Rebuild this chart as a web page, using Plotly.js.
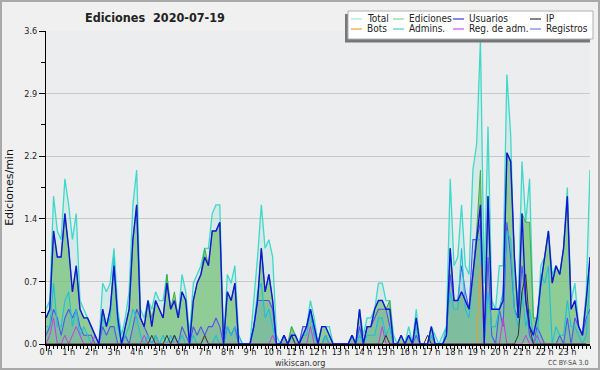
<!DOCTYPE html>
<html><head><meta charset="utf-8">
<script src="https://cdn.plot.ly/plotly-3.0.1.min.js"></script>
<style>html,body{margin:0;padding:0;background:#f0f0f0}#c{width:600px;height:370px}</style>
</head><body><div id="c"></div>
<script>
// 10-minute slots, 00:00 .. 24:00 (145 points), values in edits/min
const totalVals = [0.4,0.5,1.7,1.3,1.2,1.9,1.6,1.2,1.5,0.5,0.4,0.3,0.2,0.1,0,0.7,0.6,0.7,1.1,0.4,0.1,0.3,0.6,1.6,2.0,
0.4,0.3,0.5,0.4,0.6,0.5,0.5,0.8,0.4,0.5,0.3,0.8,0.6,0.1,0.7,0.8,0.9,1.1,1.1,1.5,1.6,1.6,0,0.8,0.7,0.9,0.1,
0,0,0,
0.5,1.0,1.6,1.1,1.2,1.0,0.1,0,0.1,0,0.2,0.1,0,0.2,0.2,0.5,0.3,0,0.2,0.2,0.2,0,0,0,0,0,0.1,0,0.4,0.1,0.3,0.3,0.4,0.7,0.7,0.5,0.5,0.1,0,0.1,0,0.2,0,0.4,0,0,0,0.2,0.1,
0,0.1,0.2,1.9,0.9,1.0,1.6,0.9,0.8,2.0,2.3,3.5,0.7,2.5,0.5,0.4,0.9,0.9,3.1,2.4,0.8,0.5,2.1,1.4,1.9,0.3,0.2,0.9,1.0,1.3,0.8,0.9,0.8,1.1,1.8,0.5,0.7,0.2,0.1,0.6,2.0];
const usuariosVals = [0.3,0.4,1.3,1.0,1.0,1.5,1.1,0.6,0.9,0.4,0.3,0.3,0.2,0.1,0,0.4,0.2,0.4,0.9,0.3,0,0.2,0.4,1.2,1.6,
0.3,0.2,0.5,0.2,0.5,0.4,0.3,0.7,0.4,0.5,0.3,0.6,0.5,0,0.5,0.7,0.8,1.0,0.9,1.3,1.3,1.4,0,0.6,0.5,0.7,0,
0,0,0,0.2,0.5,1.1,0.6,0.8,0.5,0,0,0.1,0,0.1,0.1,0,0.1,0.2,0.4,0.2,0,0.2,0.2,0.1,0,0,0,0,0,0.1,0,0.4,0,0.2,0.2,0.4,0.5,0.5,0.4,0.4,0,0,0.1,0,0.1,0,0.3,0,0,0,0.2,0,
0,0,0.1,1.1,0.5,0.5,0.6,0.5,0.4,0.8,1.2,1.6,0,1.7,0.4,0.4,0.4,0.5,2.2,2.1,1.0,0.3,1.5,0.5,0.2,0.1,0.3,0.7,1.0,1.3,0.7,0.9,0.8,1.1,1.7,0.4,0.5,0.2,0.1,0.5,1.0];
const edicionesVals = [0.3,0.4,1.3,1.0,1.0,1.5,1.1,0.6,0.9,0.4,0.3,0.3,0.2,0.1,0,0.4,0.2,0.4,0.9,0.3,0,0.2,0.4,1.2,1.6,
0.3,0.2,0.5,0.3,0.5,0.4,0.3,0.8,0.4,0.6,0.3,0.6,0.5,0,0.5,0.7,0.8,1.1,0.9,1.3,1.3,1.4,0,0.6,0.5,0.7,0,
0,0,0,0.2,0.5,1.1,0.6,0.8,0.5,0,0,0.1,0,0.2,0.1,0,0.1,0.2,0.4,0.2,0,0.2,0.2,0.1,0,0,0,0,0,0.1,0,0.4,0,0.2,0.2,0.4,0.5,0.5,0.4,0.5,0,0,0.1,0,0.1,0,0.3,0,0,0,0.2,0,
0,0,0.1,1.1,0.5,0.5,0.6,0.5,0.4,0.8,1.3,2.0,0,1.7,0.4,0.4,0.4,0.5,2.2,2.1,1.0,0.3,1.5,1.4,1.4,0.3,0.3,0.7,1.0,1.3,0.7,0.9,0.8,1.1,1.7,0.4,0.5,0.2,0.1,0.5,1.0];
const ipVals = [0,0,0,0,0,0,0,0,0,0,0,0,0,0,0,0,0,0,0,0,0,0,0,0,0,
0,0,0,0.1,0,0,0,0.1,0,0.1,0,0,0,0,0,0,0,0.1,0,0,0,0,0,0,0,0,0,
0,0,0,0,0,0,0,0,0,0,0,0,0,0.1,0,0,0,0,0,0,0,0,0,0,0,0,0,0,0,0,0,0,0,0,0,0,0,0,0.1,0,0,0,0,0,0,0,0,0,0,0.1,0,
0,0,0,0,0,0,0,0,0,0,0,0,0,0,0,0,0,0,0,0,0,0,0.1,0.6,0.8,0.2,0,0,0,0,0,0,0,0,0,0,0,0,0,0,0];
const botsVals = [0,0,0,0,0,0,0,0,0,0,0,0,0,0,0,0,0,0,0,0,0,0,0,0,0,
0,0,0,0,0,0,0,0,0,0,0,0,0,0,0,0,0,0.1,0,0,0,0,0,0,0,0,0,
0,0,0,0,0,0,0,0,0,0,0,0,0,0,0,0,0,0,0,0,0,0,0,0,0,0,0,0,0,0,0,0,0,0,0,0,0,0,0,0,0,0,0,0,0,0,0,0,0,0,0,0,
0,0,0,0,0,0,0,0,0,0,0,0.9,0,0,0,0,0,0,0,0,0,0,0,0,0,0,0,0,0,0,0,0,0,0,0,0,0,0,0,0,0];
const adminsVals = [0.2,0.2,0.7,0.2,0.2,0.5,0.6,0.2,0.4,0.1,0.2,0.1,0,0,0,0.3,0.2,0.3,1.0,0.2,0,0.1,0.2,0.4,0.3,
0.1,0,0.1,0,0.1,0,0.1,0,0.1,0,0,0.1,0,0,0.1,0,0,0.1,0,0,0.1,0,0,0.2,0.1,0.2,0.1,
0,0,0,0.2,0.6,0.7,0.3,0.4,0.2,0,0,0,0,0.1,0,0,0.1,0.1,0.4,0.1,0,0,0.1,0,0,0,0,0,0,0.1,0,0.1,0,0.1,0.1,0.1,0.3,0.3,0.1,0.2,0,0,0,0,0.1,0,0.2,0,0,0,0.1,0,
0,0,0.2,0.6,0.4,0.4,1.1,0.4,0.3,0.8,1.2,1.2,0,0.6,0.2,0.2,0.4,0.6,1.3,1.2,0.4,0.2,0.6,0.2,0.4,0.1,0,0.8,0.7,0.9,0,0.2,0.1,0.1,0.5,0.2,0.2,0.1,0,0.1,0.8];
const regAdmVals = [0,0.1,0.3,0,0,0.1,0,0.1,0.2,0.1,0,0,0,0.1,0,0,0,0,0,0,0,0,0,0,0,
0,0.1,0,0,0,0,0,0,0,0,0,0,0,0,0,0,0,0,0,0,0,0,0,0,0,0,0,
0,0,0,0,0,0,0,0,0.1,0,0,0,0,0,0,0,0,0,0.2,0,0,0,0,0,0,0,0,0,0,0,0,0,0,0,0,0,0,0.2,0,0,0,0,0,0,0,0,0,0,0,0,0,
0,0,0,0,0,0,0,0,0,0,0,0,0,0,0,0,0,0,0.3,0,0,0,0,0,0.1,0,0,0.1,0,0,0,0,0,0,0,0,0,0,0,0,0];
const registrosVals = [0.1,0.2,0.4,0.3,0.1,0.3,0.4,0.3,0.4,0.2,0.1,0.1,0.1,0,0,0.2,0.1,0.2,0.2,0,0,0.1,0,0.2,0.4,
0.3,0.2,0.1,0,0.1,0,0,0,0,0.1,0,0.2,0.1,0,0.2,0.1,0.2,0.1,0.2,0.2,0.3,0.2,0,0.2,0.1,0.2,0,
0,0,0,0.2,0.5,0.5,0.5,0.5,0.4,0,0,0.1,0,0.1,0,0,0.2,0.2,0.4,0.1,0,0,0.1,0,0,0,0,0,0,0.1,0,0.2,0,0.2,0.2,0.3,0.4,0.4,0.4,0.2,0,0,0,0,0.1,0,0.1,0,0,0,0.1,0,
0,0,0.1,0.8,0.5,0.5,0.9,0.6,0.4,1.2,1.2,1.4,0,1.0,0.1,0,0.4,0.2,1.4,1.0,0.4,0.3,0.9,0.5,0.1,0,0.2,0.1,0,0,0,0,0.1,0,0.3,0,0.3,0.2,0.1,0.3,0.4];

const hourTicks = [];const hourLabels = [];
for (let h = 0; h < 24; h++) { hourTicks.push(h); hourLabels.push(h + ' h'); }
const yTickVals = [0, 0.72, 1.44, 2.16, 2.88, 3.6];
const yTickText = ['0.0', '0.7', '1.4', '2.2', '2.9', '3.6'];
const yMinorVals = [0.36, 1.08, 1.8, 2.52, 3.24];
const times = totalVals.map((_, i) => i / 6);

const F = 'DejaVu Sans, sans-serif';
const FC = 'DejaVu Sans Condensed, Liberation Sans Narrow, DejaVu Sans, sans-serif';
function tr(name, y, color, width, fill, fillcolor) {
  const t = {type: 'scatter', mode: 'lines', name: name, x: times, y: y,
    line: {color: color, width: width}, hoverinfo: 'skip', showlegend: false};
  if (fill) { t.fill = 'tozeroy'; t.fillcolor = fillcolor; }
  return t;
}
const data = [
  tr('Total', totalVals, '#3fd9c9', 1.3, true, 'rgba(90,215,200,0.14)'),
  tr('Ediciones', edicionesVals, '#3fae3f', 1.0, true, 'rgba(110,190,110,0.68)'),
  tr('Registros', registrosVals, '#5252ee', 1.1, true, 'rgba(60,80,220,0.10)'),
  tr('Admins.', adminsVals, '#1ec0d6', 1.1, true, 'rgba(30,180,210,0.08)'),
  tr('Bots', botsVals, '#f09a30', 1.0, false),
  tr('Reg. de adm.', regAdmVals, '#c83ce0', 1.0, false),
  tr('IP', ipVals, '#333333', 1.0, false),
  tr('Usuarios', usuariosVals, '#1414d8', 1.4, false)
];

const L = 46, R = 590, T = 31, B = 344;
const px = x => (x - L) / (R - L);
const py = y => (B - y) / (B - T);

const legendItems = [
  ['Total', '#a6e6de', 351, 19], ['Ediciones', '#8fd08f', 393, 19], ['Usuarios', '#3a3ae0', 453, 19], ['IP', '#333333', 530, 19],
  ['Bots', '#f0a040', 351, 29], ['Admins.', '#4cc8d8', 393, 29], ['Reg. de adm.', '#d050e0', 453, 29], ['Registros', '#7a7af0', 530, 29]
];
const shapes = [
  {type: 'rect', xref: 'paper', yref: 'paper', x0: px(1), x1: px(599), y0: py(369), y1: py(1), line: {color: '#a9a9a9', width: 2}, layer: 'above'},
  {type: 'rect', xref: 'paper', yref: 'paper', x0: px(345), x1: px(590), y0: py(42.5), y1: py(14), fillcolor: '#777777', line: {width: 0}, layer: 'above'},
  {type: 'rect', xref: 'paper', yref: 'paper', x0: px(348), x1: px(593), y0: py(39), y1: py(11), fillcolor: '#ffffff', line: {color: '#b0b0b0', width: 1}, layer: 'above'}
];
const annotations = [
  {text: 'wikiscan.org', xref: 'paper', yref: 'paper', x: px(300), y: py(362.5), showarrow: false, font: {family: FC, size: 9, color: '#333'}, xanchor: 'center', yanchor: 'middle'},
  {text: 'CC BY-SA 3.0', xref: 'paper', yref: 'paper', x: px(590), y: py(362.5), showarrow: false, font: {family: FC, size: 7, color: '#444'}, xanchor: 'right', yanchor: 'middle'}
];
legendItems.forEach(([name, col, sx, sy]) => {
  shapes.push({type: 'line', xref: 'paper', yref: 'paper', x0: px(sx), x1: px(sx + 11), y0: py(sy), y1: py(sy), line: {color: col, width: 1.2}, layer: 'above'});
  annotations.push({text: name, xref: 'paper', yref: 'paper', x: px(sx + 14), y: py(sy), showarrow: false, xanchor: 'left', yanchor: 'middle', font: {family: FC, size: 10, color: '#222'}});
});

const layout = {
  width: 600, height: 370,
  margin: {l: L, r: 600 - R, t: T, b: 370 - B, pad: 0},
  paper_bgcolor: '#f0f0f0', plot_bgcolor: '#ebedef',
  showlegend: false,
  title: {text: '<b>Ediciones\u00a0\u00a02020-07-19</b>', x: 85 / 600, xanchor: 'left', y: 1 - 18 / 370, yanchor: 'middle', font: {family: FC, size: 12.5, color: '#222'}},
  xaxis: {range: [0, 24], tickvals: hourTicks, ticktext: hourLabels, ticks: 'outside', ticklen: 5, tickwidth: 1, tickcolor: '#000',
    ticklabelstandoff: -7,
    showline: true, linecolor: '#000', linewidth: 2, showgrid: false, zeroline: false, fixedrange: true,
    tickfont: {family: FC, size: 9, color: '#222'},
    minor: {dtick: 1 / 6, tick0: 0, ticks: 'outside', ticklen: 3, tickcolor: '#000', showgrid: false}},
  yaxis: {range: [0, 3.6], tickvals: yTickVals, ticktext: yTickText, ticks: 'outside', ticklen: 6, tickwidth: 1, tickcolor: '#000',
    showline: true, linecolor: '#000', linewidth: 1, showgrid: true, gridcolor: '#c9c9c9', gridwidth: 1, zeroline: false, fixedrange: true,
    tickfont: {family: FC, size: 9, color: '#222'},
    title: {text: 'Ediciones/min', font: {family: F, size: 11, color: '#111'}, standoff: 8},
    minor: {tickvals: yMinorVals, ticks: 'outside', ticklen: 4, tickcolor: '#000', showgrid: false}},
  shapes: shapes, annotations: annotations
};
Plotly.newPlot('c', data, layout, {staticPlot: true, displayModeBar: false});
</script></body></html>
